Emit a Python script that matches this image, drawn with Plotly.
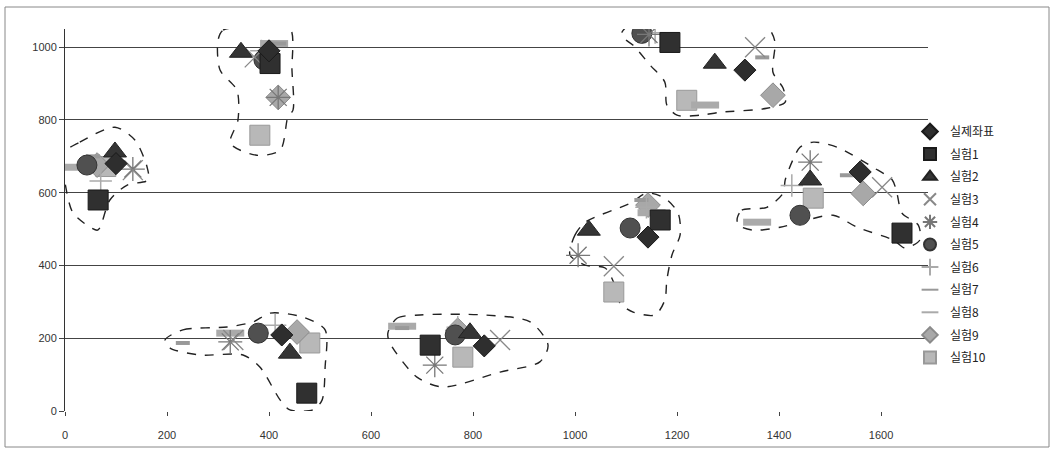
import plotly.graph_objects as go

# ---- data (cluster order: A top-left, B left, C bottom-left, D bottom-mid, E mid-right, F top-right, G right)
series_names = ["실제좌표", "실험1", "실험2", "실험3", "실험4", "실험5",
                "실험6", "실험7", "실험8", "실험9", "실험10"]

actual_x = [400, 100, 425, 822, 1143, 1333, 1559]
actual_y = [990, 680, 209, 179, 478, 937, 657]
exp1_x = [402, 65, 474, 716, 1167, 1186, 1641]
exp1_y = [955, 580, 49, 181, 525, 1013, 489]
exp2_x = [345, 98, 441, 794, 1027, 1274, 1461]
exp2_y = [986, 712, 159, 215, 497, 956, 635]
exp3_x = [372, 133, 330, 853, 1076, 1353, 1602]
exp3_y = [972, 662, 195, 195, 398, 1000, 615]
exp4_x = [418, 133, 324, 725, 1006, 1145, 1461]
exp4_y = [862, 665, 190, 126, 428, 1035, 684]
exp5_x = [390, 43, 379, 765, 1108, 1131, 1441]
exp5_y = [965, 676, 214, 209, 503, 1038, 538]
exp6_x = [385, 70, 412, 770, 1140, 1157, 1425]
exp6_y = [990, 632, 236, 230, 560, 1040, 620]
exp7_x = [420, 55, 231, 661, 1130, 1367, 1533]
exp7_y = [1010, 700, 187, 228, 580, 972, 648]
exp8_x = [410, 14, 324, 661, 1150, 1255, 1357]
exp8_y = [1010, 670, 214, 233, 545, 841, 519]
exp9_x = [418, 63, 455, 770, 1143, 1388, 1565]
exp9_y = [862, 676, 217, 222, 566, 868, 598]
exp10_x = [382, 80, 480, 780, 1076, 1219, 1467]
exp10_y = [758, 672, 187, 148, 327, 854, 585]

series_x = [actual_x, exp1_x, exp2_x, exp3_x, exp4_x, exp5_x, exp6_x, exp7_x, exp8_x, exp9_x, exp10_x]
series_y = [actual_y, exp1_y, exp2_y, exp3_y, exp4_y, exp5_y, exp6_y, exp7_y, exp8_y, exp9_y, exp10_y]

x_ticks = [0, 200, 400, 600, 800, 1000, 1200, 1400, 1600]
y_ticks = [0, 200, 400, 600, 800, 1000]

# hand-drawn dashed outlines around clusters (annotations)
outline_a = [(300, 1019), (310, 1047), (382, 1055), (441, 1052), (445, 937), (447, 827), (437, 808),
             (422, 717), (376, 703), (324, 736), (339, 799), (337, 882), (304, 937)]
outline_b = [(-14, 698), (29, 739), (98, 780), (137, 745), (161, 670), (163, 635), (122, 621),
             (88, 580), (69, 505), (63, 497), (16, 544), (-4, 654)]
outline_c = [(196, 195), (231, 223), (318, 231), (369, 245), (402, 269), (467, 258), (510, 223),
             (510, 121), (504, 30), (486, 3), (441, 3), (422, 30), (382, 121), (349, 154),
             (265, 154), (206, 173)]
outline_d = [(633, 214), (651, 255), (696, 264), (820, 264), (912, 245), (947, 181), (931, 135),
             (853, 107), (741, 66), (690, 93), (637, 187)]
outline_e = [(990, 429), (1000, 484), (1020, 519), (1108, 571), (1141, 599), (1176, 585), (1202, 544),
             (1206, 484), (1190, 429), (1180, 360), (1176, 305), (1157, 264), (1114, 272),
             (1088, 297), (1078, 346), (1059, 393), (1020, 401)]
outline_f = [(1092, 1041), (1114, 1069), (1161, 1080), (1206, 1055), (1357, 1066), (1382, 1047),
             (1392, 1014), (1388, 931), (1408, 887), (1412, 849), (1376, 832), (1284, 821),
             (1245, 813), (1200, 813), (1180, 841), (1176, 904), (1147, 951), (1114, 1005), (1094, 1027)]
outline_g = [(1318, 530), (1327, 552), (1376, 560), (1408, 599), (1412, 635), (1427, 690), (1441, 725),
             (1467, 739), (1514, 725), (1584, 670), (1622, 635), (1631, 599), (1641, 544), (1673, 511),
             (1676, 470), (1647, 448), (1624, 470), (1553, 505), (1506, 538), (1441, 519),
             (1402, 505), (1349, 497), (1320, 511)]
outlines = [outline_a, outline_b, outline_c, outline_d, outline_e, outline_f, outline_g]

# ---- styles
styles = [
    dict(symbol="diamond", size=17, color="#2e2e2e", line=dict(color="#1a1a1a", width=1)),
    dict(symbol="square", size=20, color="#303030", line=dict(color="#1a1a1a", width=1)),
    dict(symbol="triangle-up", size=20, color="#353535", line=dict(color="#222", width=1)),
    dict(symbol="x-thin-open", size=20, color="#888", line=dict(color="#7a7a7a", width=1.3)),
    dict(symbol="asterisk-open", size=20, color="#777", line=dict(color="#6e6e6e", width=1.3)),
    dict(symbol="circle", size=20, color="#505050", line=dict(color="#333", width=1)),
    dict(symbol="cross-thin-open", size=16, color="#aaa", line=dict(color="#a0a0a0", width=1.5)),
    dict(symbol="line-ew-open", size=10, color="#999", line=dict(color="#999", width=4)),
    dict(symbol="line-ew-open", size=20, color="#aaa", line=dict(color="#aaa", width=7)),
    dict(symbol="diamond", size=19, color="#a8a8a8", line=dict(color="#8a8a8a", width=1)),
    dict(symbol="square", size=20, color="#b8b8b8", line=dict(color="#999", width=1)),
]

fig = go.Figure()

for pts in outlines:
    xs = [p[0] for p in pts] + [pts[0][0]]
    ys = [p[1] for p in pts] + [pts[0][1]]
    fig.add_trace(go.Scatter(x=xs, y=ys, mode="lines", showlegend=False, hoverinfo="skip",
                             line=dict(color="#222", width=1.4, dash="dash", shape="spline", smoothing=0.8)))

order = [10, 9, 8, 7, 6, 5, 4, 3, 2, 1, 0]
traces = {}
for i in range(len(series_names)):
    st = styles[i]
    traces[i] = go.Scatter(
        x=series_x[i], y=series_y[i], mode="markers", name=series_names[i],
        legendrank=i + 1, legendgroup=series_names[i],
        marker=dict(symbol=st["symbol"], size=st["size"], color=st["color"], line=st["line"]),
    )
for i in order:
    fig.add_trace(traces[i])

PW, PH = 863, 382  # plot area size in px

fig.update_layout(
    width=1054, height=450,
    margin=dict(l=65, r=126, t=29, b=39, autoexpand=False),
    paper_bgcolor="white", plot_bgcolor="white",
    font=dict(family="Liberation Sans, Noto Sans CJK KR", size=11, color="#222"),
    xaxis=dict(range=[0, 1692], tickvals=x_ticks, showgrid=False, zeroline=False,
               showline=False, ticks="outside", ticklen=4, tickcolor="#444",
               ticklabelstandoff=10, automargin=False,
               tickfont=dict(size=11, color="#333")),
    yaxis=dict(range=[0, 1050], tickvals=y_ticks, showgrid=True, gridcolor="#444", gridwidth=1,
               zeroline=False, showline=True, linecolor="#333", linewidth=1, automargin=False,
               ticks="outside", ticklen=5, tickcolor="#444", tickfont=dict(size=11, color="#333")),
    legend=dict(x=(910 - 65) / PW, xanchor="left", y=(411 - 117) / PH, yanchor="top",
                font=dict(family="Noto Sans CJK KR", size=12, color="#222"),
                itemsizing="constant", tracegroupgap=3.6, traceorder="grouped",
                bgcolor="rgba(0,0,0,0)"),
    shapes=[dict(type="rect", xref="paper", yref="paper",
                 x0=(5 - 65) / PW, x1=(1049 - 65) / PW, y0=(411 - 447) / PH, y1=(411 - 7) / PH,
                 line=dict(color="#888", width=1))],
)

fig.write_html("out.html", config={"displayModeBar": False},
               post_script="document.body.style.margin='0';document.body.style.overflow='hidden';")
